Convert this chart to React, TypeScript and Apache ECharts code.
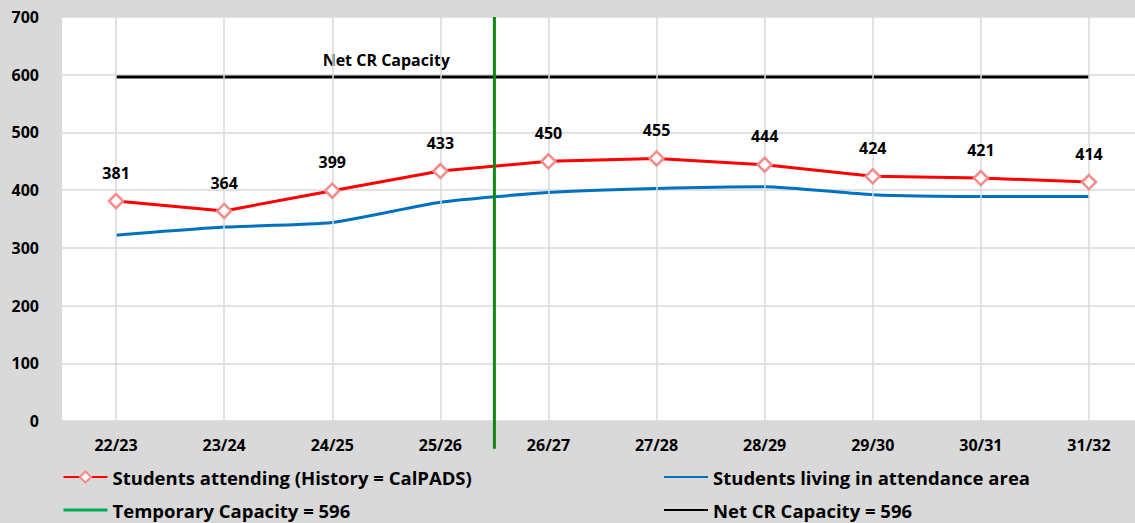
import React, { useEffect, useRef } from "react";
import * as echarts from "echarts";

const categories = ["22/23", "23/24", "24/25", "25/26", "26/27", "27/28", "28/29", "29/30", "30/31", "31/32"];
const attending = [381, 364, 399, 433, 450, 455, 444, 424, 421, 414];
const living = [322, 336, 344, 379, 396, 403, 406, 392, 389, 389];
const netCapacity = [596, 596, 596, 596, 596, 596, 596, 596, 596, 596];
// temporary capacity divider, on a 0..10 value scale spanning the category band (boundary between 25/26 and 26/27)
const tempLine = [[4, -48], [4, 700]];
const netLabelPoint = [[3, 596]];
const yMin = 0;
const yMax = 700;
const yStep = 100;

const NAME_ATT = "Students attending (History = CalPADS)";
const NAME_LIV = "Students living in attendance area";
const NAME_TMP = "Temporary Capacity = 596";
const NAME_NET = "Net CR Capacity = 596";

export default function App() {
  const ref = useRef<HTMLDivElement>(null);
  useEffect(() => {
    document.body.style.margin = "0";
    document.body.style.overflow = "hidden";
    const chart = echarts.init(ref.current!, null, { renderer: "svg" });
    const font = "'Open Sans', sans-serif";
    const txt = { color: "#000", fontWeight: "bold" as const, fontSize: 16, fontFamily: font };
    const legTxt = { ...txt, fontSize: 18.5, lineHeight: 22 };
    const hideSym = { color: "rgba(0,0,0,0)", borderColor: "rgba(0,0,0,0)", borderWidth: 0 };
    chart.setOption({
      animation: false,
      backgroundColor: "#d9d9d9",
      grid: { left: 62, top: 17, width: 1081, height: 404, show: true, backgroundColor: "#fff", borderWidth: 0 },
      xAxis: [
        {
          type: "category",
          data: categories,
          boundaryGap: true,
          axisLine: { show: false },
          axisTick: { show: false },
          splitLine: { show: false },
          axisLabel: { ...txt, margin: 16 },
        },
        { type: "value", min: 0, max: 10, show: false },
      ],
      yAxis: {
        type: "value",
        min: yMin,
        max: yMax,
        interval: yStep,
        axisLine: { show: false },
        axisTick: { show: false },
        axisLabel: { ...txt, margin: 23 },
        splitLine: { lineStyle: { color: "#d9d9d9", width: 1.5 } },
      },
      legend: [
        {
          orient: "vertical",
          left: 62,
          top: 466,
          height: 60,
          padding: 0,
          itemWidth: 44,
          itemHeight: 14,
          itemGap: 11,
          textStyle: legTxt,
          data: [
            { name: NAME_ATT },
            { name: NAME_TMP, itemStyle: hideSym, lineStyle: { color: "#00b050", width: 3 } },
          ],
        },
        {
          orient: "vertical",
          left: 663,
          top: 466,
          height: 60,
          padding: 0,
          itemWidth: 44,
          itemHeight: 14,
          itemGap: 11,
          textStyle: legTxt,
          data: [
            { name: NAME_LIV, itemStyle: hideSym },
            { name: NAME_NET, itemStyle: hideSym },
          ],
        },
      ],
      series: [
        {
          name: "vgrid",
          type: "line",
          data: [],
          z: 1,
          silent: true,
          markLine: {
            silent: true,
            symbol: ["none", "none"],
            label: { show: false },
            lineStyle: { color: "#d9d9d9", width: 1.5, type: "solid" },
            data: categories.map((c) => ({ xAxis: c })),
          },
        },
        {
          name: NAME_NET,
          type: "line",
          data: netCapacity,
          symbol: "none",
          color: "#000",
          lineStyle: { color: "#000", width: 3 },
          z: 3,
        },
        {
          name: "netLabel",
          type: "scatter",
          xAxisIndex: 1,
          data: netLabelPoint,
          symbolSize: 0,
          silent: true,
          itemStyle: { opacity: 1 },
          label: { show: true, position: "top", distance: 9, formatter: "Net CR Capacity", opacity: 1, ...txt },
        },
        {
          name: NAME_LIV,
          type: "line",
          data: living,
          symbol: "none",
          smooth: 0.2,
          color: "#0070c0",
          lineStyle: { color: "#0070c0", width: 3 },
          z: 4,
        },
        {
          name: NAME_ATT,
          type: "line",
          data: attending,
          symbol: "diamond",
          symbolSize: 14,
          color: "#ff0000",
          lineStyle: { color: "#ff0000", width: 3 },
          itemStyle: { color: "#ffffff", borderColor: "#f58a8a", borderWidth: 2.5 },
          label: { show: true, position: "top", distance: 12, ...txt },
          z: 5,
        },
        {
          name: NAME_TMP,
          type: "line",
          xAxisIndex: 1,
          data: tempLine,
          symbol: "none",
          clip: false,
          color: "#00b050",
          lineStyle: { color: "#128612", width: 3 },
          z: 6,
        },
      ],
    });
    return () => chart.dispose();
  }, []);
  return <div ref={ref} style={{ width: 1145, height: 523 }} />;
}
